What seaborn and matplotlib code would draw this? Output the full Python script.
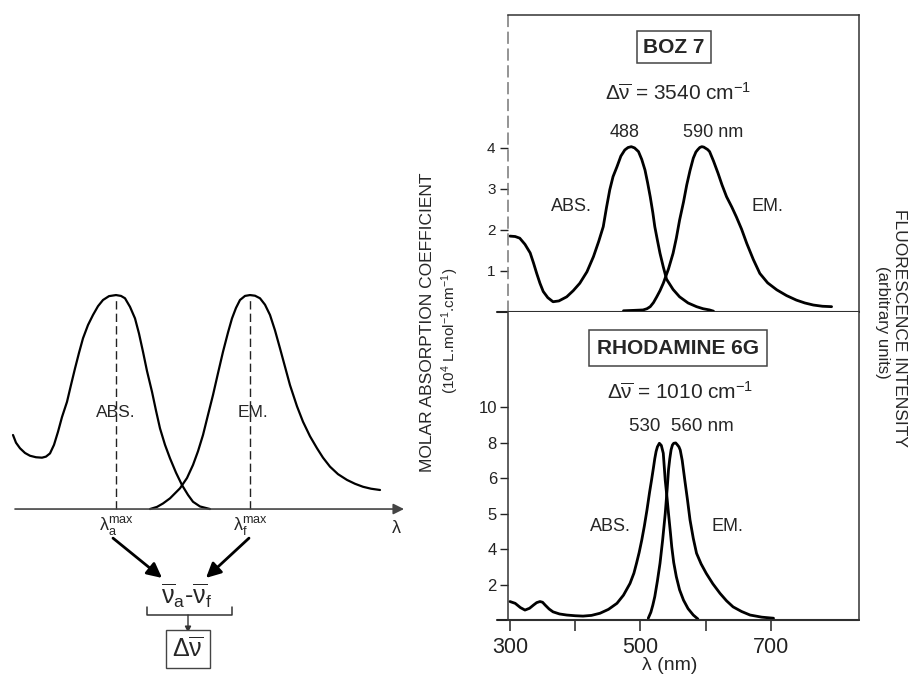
import numpy as np
import pandas as pd
import matplotlib
matplotlib.use('Agg')
import matplotlib.pyplot as plt
import seaborn as sns

# ---- schematic (left): arbitrary wavelength units / normalised intensity
sch_abs_x = [13, 16, 20, 25, 30, 36, 42, 46, 50, 54, 58, 62, 67, 71, 75, 79, 83,
             88, 93, 98, 103, 109, 116, 121, 125, 130, 135, 139, 143, 147, 152,
             156, 160, 165, 170, 176, 182, 188, 193, 200, 210]
sch_abs_y = [0.346, 0.310, 0.284, 0.262, 0.249, 0.242, 0.240, 0.245, 0.260, 0.300,
             0.361, 0.430, 0.501, 0.580, 0.657, 0.730, 0.798, 0.860, 0.907, 0.948,
             0.977, 0.995, 1.0, 0.996, 0.985, 0.945, 0.891, 0.820, 0.735, 0.645,
             0.548, 0.460, 0.377, 0.300, 0.237, 0.170, 0.112, 0.066, 0.034, 0.012,
             0.0]
sch_em_x = [150, 157, 163, 170, 180, 187, 193, 198, 203, 208, 213, 218, 223, 228,
            232, 236, 240, 245, 250, 255, 260, 265, 270, 275, 280, 285, 290, 297,
            303, 310, 317, 323, 330, 338, 347, 355, 363, 371, 380]
sch_em_y = [0.0, 0.010, 0.026, 0.050, 0.097, 0.145, 0.206, 0.270, 0.346, 0.440,
            0.533, 0.635, 0.735, 0.825, 0.891, 0.940, 0.977, 0.996, 1.0, 0.997,
            0.985, 0.955, 0.907, 0.835, 0.751, 0.665, 0.579, 0.480, 0.408, 0.340,
            0.284, 0.240, 0.198, 0.163, 0.136, 0.118, 0.104, 0.095, 0.089]
sch_peaks = [116, 250]

# ---- BOZ 7 (top right), nm vs 10^4 L.mol-1.cm-1
boz_abs_nm = [300, 308, 315, 323, 331, 336, 341, 346, 351, 358, 366, 375, 387, 397,
              407, 418, 428, 436, 443, 448, 453, 458, 464, 470, 476, 481, 486, 491,
              497, 502, 507, 511, 515, 519, 522, 526, 530, 535, 540, 550, 560, 573,
              586, 596, 606, 612]
boz_abs_val = [1.85, 1.84, 1.80, 1.65, 1.44, 1.20, 0.94, 0.70, 0.50, 0.35, 0.25,
               0.27, 0.37, 0.52, 0.70, 0.98, 1.35, 1.72, 2.08, 2.55, 2.98, 3.30,
               3.54, 3.80, 3.95, 4.01, 4.03, 4.0, 3.91, 3.72, 3.46, 3.15, 2.81,
               2.42, 2.08, 1.75, 1.43, 1.10, 0.80, 0.55, 0.37, 0.22, 0.13, 0.08,
               0.05, 0.02]
boz_em_nm = [474, 490, 504, 510, 515, 520, 525, 530, 535, 543, 550, 555, 560, 566,
             571, 576, 581, 585, 588, 591, 594, 597, 600, 603, 606, 612, 619, 625,
             632, 640, 647, 655, 663, 673, 683, 695, 709, 724, 739, 752, 765, 779,
             793]
boz_em_val = [0.03, 0.04, 0.05, 0.08, 0.13, 0.23, 0.37, 0.52, 0.70, 1.05, 1.43,
              1.80, 2.24, 2.68, 3.10, 3.45, 3.75, 3.90, 3.96, 4.01, 4.03, 4.02,
              3.99, 3.96, 3.91, 3.68, 3.38, 3.10, 2.81, 2.56, 2.32, 2.02, 1.67,
              1.28, 0.94, 0.71, 0.54, 0.40, 0.29, 0.22, 0.17, 0.14, 0.13]
boz_yticks = [1, 2, 3, 4]
boz_xticks = [400, 488, 590, 700]

# ---- Rhodamine 6G (bottom right)
rh_abs_nm = [300, 308, 316, 323, 330, 336, 341, 346, 350, 354, 360, 366, 376, 387,
             400, 412, 425, 438, 451, 464, 474, 484, 490, 494, 498, 502, 506, 510,
             514, 517, 520, 522, 524, 526, 529, 532, 535, 538, 541, 543, 546, 548,
             551, 555, 560, 566, 573, 581, 588]
rh_abs_val = [0.52, 0.47, 0.35, 0.28, 0.33, 0.42, 0.49, 0.52, 0.50, 0.42, 0.31,
              0.23, 0.17, 0.14, 0.12, 0.11, 0.13, 0.19, 0.30, 0.47, 0.70, 1.03,
              1.32, 1.60, 1.90, 2.25, 2.65, 3.10, 3.60, 3.94, 4.30, 4.55, 4.75,
              4.88, 4.98, 4.92, 4.70, 3.94, 3.40, 3.00, 2.45, 2.06, 1.62, 1.22,
              0.85, 0.56, 0.32, 0.14, 0.03]
rh_em_nm = [512, 516, 519, 522, 526, 530, 534, 538, 541, 543, 545, 547, 549, 551,
            554, 556, 559, 561, 564, 568, 572, 576, 581, 586, 593, 601, 611, 622,
            632, 642, 655, 668, 686, 704]
rh_em_val = [0.05, 0.22, 0.42, 0.66, 1.10, 1.60, 2.25, 3.00, 3.70, 4.23, 4.55, 4.80,
             4.93, 4.98, 4.99, 4.95, 4.88, 4.79, 4.50, 3.94, 3.40, 2.82, 2.30, 1.88,
             1.58, 1.31, 1.02, 0.75, 0.54, 0.37, 0.24, 0.14, 0.08, 0.05]
rh_yticks = [1, 2, 3, 4, 5, 6]
rh_yticklabels = ['2', '4', '5', '6', '8', '10']
rh_xticks = [300, 400, 500, 600, 700]
rh_xticklabels = ['300', '', '500', '', '700']

sns.set_theme(style='ticks')
plt.rcParams['font.family'] = ['Liberation Sans', 'DejaVu Sans']
plt.rcParams['mathtext.fontset'] = 'custom'
plt.rcParams['mathtext.rm'] = 'Liberation Sans'
plt.rcParams['mathtext.it'] = 'Liberation Sans:italic'
plt.rcParams['mathtext.bf'] = 'Liberation Sans:bold'

fig = plt.figure(figsize=(9.12, 6.77), dpi=100)
fig.patch.set_facecolor('white')

line_kw = dict(color='black', estimator=None, sort=False,
               solid_joinstyle='round', solid_capstyle='round')

# ---------------- left schematic
ax_l = fig.add_axes([0, 0, 420 / 912, 1])
ax_l.set_xlim(0, 420)
ax_l.set_ylim(-0.785, 2.379)
ax_l.axis('off')

sns.lineplot(x=sch_abs_x, y=sch_abs_y, ax=ax_l, lw=1.6, **line_kw)
sns.lineplot(x=sch_em_x, y=sch_em_y, ax=ax_l, lw=1.6, **line_kw)
ax_l.vlines(sch_peaks, 0, 0.985, colors='#222', lw=1.0, linestyles=(0, (6, 3)))
ax_l.annotate('', xy=(404, 0), xytext=(15, 0),
              arrowprops=dict(arrowstyle='-|>', color='#444', lw=1.2,
                              mutation_scale=16, shrinkA=0, shrinkB=0))
ax_l.text(116, 0.45, 'ABS.', ha='center', va='center', fontsize=12.5)
ax_l.text(253, 0.45, 'EM.', ha='center', va='center', fontsize=12.5)
ax_l.text(116, -0.075, r'$\mathrm{\lambda}_{\rm a}^{\rm max}$', ha='center',
          va='center', fontsize=13)
ax_l.text(250, -0.075, r'$\mathrm{\lambda}_{\rm f}^{\rm max}$', ha='center',
          va='center', fontsize=13)
ax_l.text(396, -0.09, 'λ', ha='center', va='center', fontsize=13)

arrow = dict(arrowstyle='-|>', color='black', lw=2.0, mutation_scale=22,
             shrinkA=0, shrinkB=0)
ax_l.annotate('', xy=(162, -0.322), xytext=(113, -0.136), arrowprops=arrow)
ax_l.annotate('', xy=(206, -0.322), xytext=(249, -0.136), arrowprops=arrow)
ax_l.text(187, -0.405, r'$\overline{\mathrm{\nu}}_{\rm a}$-$\overline{\mathrm{\nu}}_{\rm f}$',
          ha='center', va='center', fontsize=18)
ax_l.plot([147, 147, 232, 232], [-0.458, -0.495, -0.495, -0.458], color='#333', lw=1.1)
ax_l.annotate('', xy=(188, -0.578), xytext=(188, -0.495),
              arrowprops=dict(arrowstyle='-|>', color='#333', lw=1.0,
                              mutation_scale=9, shrinkA=0, shrinkB=0))
ax_l.text(188, -0.655, r'$\mathrm{\Delta}\overline{\mathrm{\nu}}$', ha='center',
          va='center', fontsize=18,
          bbox=dict(boxstyle='square,pad=0.25', fc='white', ec='#444', lw=1.0))

# ---------------- right panels
x0, x1 = 297, 835
ax_t = fig.add_axes([508 / 912, (677 - 312) / 677, 351 / 912, 297 / 677])
ax_b = fig.add_axes([508 / 912, (677 - 620) / 677, 351 / 912, 308 / 677])

for ax in (ax_t, ax_b):
    ax.set_xlim(x0, x1)
    ax.set_facecolor('white')
    for s in ax.spines.values():
        s.set_color('#333')
        s.set_linewidth(1.1)
    ax.axhline(0, xmin=-0.03, xmax=1, color='#222', lw=1.5, clip_on=False)

sns.lineplot(x=boz_abs_nm, y=boz_abs_val, ax=ax_t, lw=2.0, **line_kw)
sns.lineplot(x=boz_em_nm, y=boz_em_val, ax=ax_t, lw=2.0, **line_kw)
ax_t.set_ylim(0, 7.24)
ax_t.set_yticks(boz_yticks)
ax_t.set_xticks(boz_xticks)
ax_t.tick_params(axis='y', direction='out', length=6, width=1, labelsize=11,
                 pad=3, colors='#222')
ax_t.tick_params(axis='x', direction='out', length=8, width=1.1,
                 labelbottom=False, colors='#222')
ax_t.spines['left'].set_linestyle((0, (7, 4)))
ax_t.spines['left'].set_color('#777')

ax_t.text(0.473, 0.892, 'BOZ 7', transform=ax_t.transAxes, ha='center',
          va='center', fontsize=15, fontweight='bold',
          bbox=dict(boxstyle='square,pad=0.3', fc='white', ec='#444', lw=1.1))
ax_t.text(0.484, 0.737, r'$\mathrm{\Delta}\overline{\mathrm{\nu}}$ = 3540 cm$^{-1}$',
          transform=ax_t.transAxes, ha='center', va='center', fontsize=15)
ax_t.text(0.333, 0.606, '488', transform=ax_t.transAxes, ha='center',
          va='center', fontsize=13)
ax_t.text(0.584, 0.606, '590 nm', transform=ax_t.transAxes, ha='center',
          va='center', fontsize=13)
ax_t.text(0.182, 0.354, 'ABS.', transform=ax_t.transAxes, ha='center',
          va='center', fontsize=13)
ax_t.text(0.738, 0.354, 'EM.', transform=ax_t.transAxes, ha='center',
          va='center', fontsize=13)

sns.lineplot(x=rh_abs_nm, y=rh_abs_val, ax=ax_b, lw=2.0, **line_kw)
sns.lineplot(x=rh_em_nm, y=rh_em_val, ax=ax_b, lw=2.0, **line_kw)
ax_b.set_ylim(0, 8.68)
ax_b.set_yticks(rh_yticks)
ax_b.set_yticklabels(rh_yticklabels)
ax_b.set_xticks(rh_xticks)
ax_b.set_xticklabels(rh_xticklabels)
ax_b.spines['top'].set_visible(False)
ax_b.tick_params(axis='y', direction='out', length=6, width=1, labelsize=12,
                 pad=2, colors='#222')
ax_b.tick_params(axis='x', direction='out', length=8, width=1.1, labelsize=15.5,
                 pad=4, colors='#222')

ax_b.text(0.484, 0.883, 'RHODAMINE 6G', transform=ax_b.transAxes, ha='center',
          va='center', fontsize=15, fontweight='bold',
          bbox=dict(boxstyle='square,pad=0.4', fc='white', ec='#444', lw=1.1))
ax_b.text(0.490, 0.737, r'$\mathrm{\Delta}\overline{\mathrm{\nu}}$ = 1010 cm$^{-1}$',
          transform=ax_b.transAxes, ha='center', va='center', fontsize=15)
ax_b.text(0.493, 0.627, '530  560 nm', transform=ax_b.transAxes, ha='center',
          va='center', fontsize=13.5)
ax_b.text(0.291, 0.302, 'ABS.', transform=ax_b.transAxes, ha='center',
          va='center', fontsize=13)
ax_b.text(0.624, 0.302, 'EM.', transform=ax_b.transAxes, ha='center',
          va='center', fontsize=13)

# axis titles
fig.text(670 / 912, 1 - 665 / 677, 'λ (nm)', ha='center', va='center', fontsize=14)
fig.text(428 / 912, 1 - 322 / 677, 'MOLAR ABSORPTION COEFFICIENT', rotation=90,
         ha='center', va='center', fontsize=12.5)
fig.text(450 / 912, 1 - 331 / 677, r'(10$^4$ L.mol$^{-1}$.cm$^{-1}$)', rotation=90,
         ha='center', va='center', fontsize=11)
fig.text(900 / 912, 1 - 328 / 677, 'FLUORESCENCE INTENSITY', rotation=-90,
         ha='center', va='center', fontsize=12.5)
fig.text(883 / 912, 1 - 322 / 677, '(arbitrary units)', rotation=-90,
         ha='center', va='center', fontsize=12)

fig.savefig('out.png', dpi=100, facecolor='white')
